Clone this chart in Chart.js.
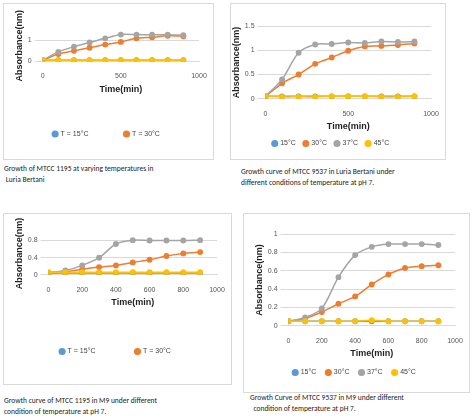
<!DOCTYPE html>
<html><head><meta charset="utf-8">
<script src="https://cdn.jsdelivr.net/npm/chart.js@4"></script>
<style>
body{margin:0;background:#fff;font-family:Calibri,"Liberation Sans",Arial,sans-serif;}
.box{position:absolute;border:1px solid #d9d9d9;background:#fff;}
.cap{position:absolute;font-size:7.5px;color:#222;line-height:11px;}
</style></head><body>
<div class="box" style="left:3px;top:3px;width:209px;height:155px"><canvas id="c1"></canvas></div>
<div class="cap" style="left:4px;top:163px">Growth of MTCC 1195 at varying temperatures in<br>&nbsp;Luria Bertani</div>
<div class="box" style="left:230px;top:3px;width:214px;height:155px"><canvas id="c2"></canvas></div>
<div class="cap" style="left:241px;top:166px">Growth curve of MTCC 9537 in Luria Bertani under<br>different conditions of temperature at pH 7.</div>
<div class="box" style="left:3px;top:213px;width:227px;height:170px"><canvas id="c3"></canvas></div>
<div class="cap" style="left:4px;top:395px">Growth curve of MTCC 1195 in M9 under different<br>condition of temperature at pH 7.</div>
<div class="box" style="left:243px;top:213px;width:225px;height:178px"><canvas id="c4"></canvas></div>
<div class="cap" style="left:250px;top:392px">Growth Curve of MTCC 9537 in M9 under different<br>&nbsp;&nbsp;condition of temperature at pH 7.</div>
<script>
const times = [0,100,200,300,400,500,600,700,800,900];
const labelsT = ["T = 15°C","T = 30°C","T = 37°C","T = 45°C"];
const labelsS = ["15°C","30°C","37°C","45°C"];
const colors = ["#5B9BD5","#ED7D31","#A5A5A5","#FFC000"];

// MTCC 1195, Luria Bertani
const lb1195_15 = [0.05,0.05,0.05,0.05,0.05,0.05,0.05,0.05,0.05,0.05];
const lb1195_30 = [0.05,0.35,0.50,0.65,0.80,0.93,1.10,1.15,1.22,1.20];
const lb1195_37 = [0.05,0.45,0.70,0.90,1.10,1.28,1.28,1.27,1.27,1.25];
const lb1195_45 = [0.05,0.04,0.04,0.04,0.04,0.04,0.04,0.04,0.04,0.04];
// MTCC 9537, Luria Bertani
const lb9537_15 = [0.05,0.05,0.05,0.05,0.05,0.05,0.05,0.05,0.05,0.05];
const lb9537_30 = [0.05,0.32,0.50,0.72,0.85,0.99,1.08,1.09,1.11,1.14];
const lb9537_37 = [0.05,0.40,0.95,1.12,1.13,1.16,1.15,1.18,1.17,1.18];
const lb9537_45 = [0.05,0.04,0.04,0.04,0.05,0.05,0.05,0.04,0.04,0.05];
// MTCC 1195, M9
const m91195_15 = [0.04,0.04,0.04,0.04,0.04,0.04,0.04,0.04,0.04,0.04];
const m91195_30 = [0.05,0.07,0.13,0.18,0.22,0.29,0.35,0.44,0.50,0.53];
const m91195_37 = [0.05,0.10,0.22,0.40,0.72,0.81,0.80,0.80,0.80,0.81];
const m91195_45 = [0.06,0.06,0.06,0.06,0.06,0.06,0.06,0.06,0.06,0.06];
// MTCC 9537, M9
const m99537_15 = [0.05,0.05,0.05,0.05,0.05,0.05,0.05,0.05,0.05,0.05];
const m99537_30 = [0.05,0.08,0.15,0.24,0.32,0.45,0.56,0.63,0.65,0.66];
const m99537_37 = [0.05,0.09,0.19,0.53,0.77,0.86,0.89,0.89,0.89,0.88];
const m99537_45 = [0.05,0.05,0.05,0.05,0.05,0.06,0.05,0.05,0.05,0.05];

function make(id, series, names, yMax, yStep, xStep, legendPad, layoutPad){
  const ds = series.map((s,i)=>({
    label: names[i],
    data: times.map((t,j)=>({x:t,y:s[j]})),
    borderColor: colors[i], backgroundColor: colors[i],
    borderWidth: 1.5, pointRadius: 2.2, tension: 0.3, order: 4-i
  }));
  new Chart(document.getElementById(id), {
    type: "line",
    data: {datasets: ds},
    options: {
      responsive: true, maintainAspectRatio: false, animation: false,
      layout: {padding: layoutPad},
      plugins: {
        legend: {position: "bottom", labels: {
          usePointStyle: true, pointStyle: "circle", boxWidth: 4, boxHeight: 4,
          padding: legendPad, color: "#444", font: {size: 7},
          sort: (a,b)=>a.datasetIndex-b.datasetIndex
        }},
        tooltip: {enabled: false}
      },
      scales: {
        x: {type: "linear", min: 0, max: 1000,
            ticks: {stepSize: xStep, color: "#555", font: {size: 7}, callback: v=>String(v)},
            grid: {display: false}, border: {color: "#d9d9d9"},
            title: {display: true, text: "Time(min)", color: "#222", padding: 0, font: {size: 9, weight: "bold"}}},
        y: {min: 0, max: yMax,
            ticks: {stepSize: yStep, color: "#555", font: {size: 7}, callback: v=>String(v)},
            grid: {color: "#d9d9d9"}, border: {display: false},
            title: {display: true, text: "Absorbance(nm)", color: "#222", padding: 0, font: {size: 9, weight: "bold"}}}
      }
    }
  });
}
make("c1", [lb1195_15,lb1195_30,lb1195_37,lb1195_45], labelsT, 1.5, 0.5, 500, 36, {left:10,right:14,top:26,bottom:0});
make("c2", [lb9537_15,lb9537_30,lb9537_37,lb9537_45], labelsS, 1.5, 0.5, 500, 8, {left:0,right:14,top:22,bottom:2});
make("c3", [m91195_15,m91195_30,m91195_37,m91195_45], labelsT, 1, 0.2, 200, 40, {left:10,right:14,top:18,bottom:0});
make("c4", [m99537_15,m99537_30,m99537_37,m99537_45], labelsS, 1, 0.2, 200, 10, {left:10,right:14,top:20,bottom:6});
</script>
</body></html>
